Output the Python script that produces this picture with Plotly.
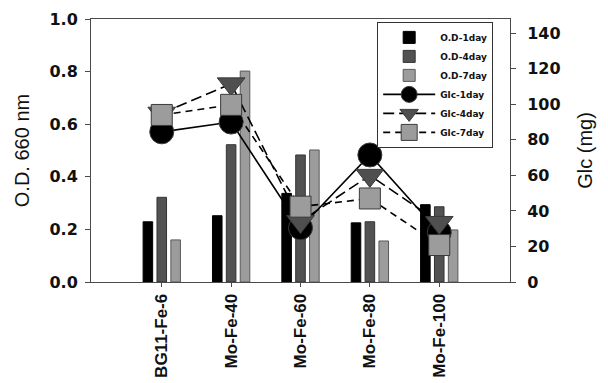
import plotly.graph_objects as go

categories = ["BG11-Fe-6", "Mo-Fe-40", "Mo-Fe-60", "Mo-Fe-80", "Mo-Fe-100"]
od_1day = [0.229, 0.252, 0.337, 0.225, 0.294]
od_4day = [0.322, 0.522, 0.483, 0.229, 0.286]
od_7day = [0.160, 0.802, 0.502, 0.156, 0.198]
glc_1day = [84.5, 90.0, 30.5, 71.5, 28.0]
glc_4day = [95.0, 111.5, 34.0, 60.0, 33.5]
glc_7day = [94.0, 99.7, 42.4, 47.0, 20.8]

ARIAL = "Liberation Sans, Arial, sans-serif"
DEJAVU = "DejaVu Sans, sans-serif"
AX = "#4a4a4a"
TXT = "#111111"

fig = go.Figure()
bar_specs = [("O.D-1day", od_1day, "#000000", "#000000"),
             ("O.D-4day", od_4day, "#525252", "#333333"),
             ("O.D-7day", od_7day, "#9c9c9c", "#5a5a5a")]
for name, vals, col, lc in bar_specs:
    fig.add_trace(go.Bar(x=categories, y=vals, name=name, marker_color=col,
                         marker_line=dict(color=lc, width=1), yaxis="y"))

line_specs = [("Glc-1day", glc_1day, "circle", "#000000", "solid", 24),
              ("Glc-4day", glc_4day, "triangle-down", "#4f4f4f", "11px,5px", 24),
              ("Glc-7day", glc_7day, "square", "#9c9c9c", "7px,5px", 21)]
for name, vals, sym, col, dash, sz in line_specs:
    fig.add_trace(go.Scatter(x=categories, y=vals, name=name, yaxis="y2",
                             mode="lines+markers",
                             line=dict(color="#000000", width=1.6, dash=dash),
                             marker=dict(symbol=sym, size=sz, color=col,
                                         line=dict(color="#3a3a3a", width=1))))

# page body has an 8px default margin, so the figure is 8px smaller
fig.update_layout(
    width=600, height=375,
    margin=dict(l=83, r=98, t=11, b=101, autoexpand=False),
    paper_bgcolor="white", plot_bgcolor="white",
    barmode="group", bargap=0.4, bargroupgap=0.31,
    showlegend=True,
    legend=dict(x=0.683, y=0.989, xanchor="left", yanchor="top",
                bgcolor="white", bordercolor="#333333", borderwidth=1,
                font=dict(family=DEJAVU, size=9, color=TXT, weight="bold"),
                tracegroupgap=0, itemwidth=52),
    font=dict(family=ARIAL, color=TXT),
    xaxis=dict(type="category", range=[-1.02, 5.02], showline=True, linecolor=AX,
               linewidth=1, mirror=True, ticks="outside", ticklen=4, tickcolor=AX,
               tickangle=-90, showgrid=False, zeroline=False, automargin=False,
               tickfont=dict(family=ARIAL, size=17, color=TXT, weight="bold")),
    yaxis=dict(range=[0, 1.0], dtick=0.2, tickformat=".1f", showline=True,
               linecolor=AX, linewidth=1, ticks="outside", ticklen=5, tickcolor=AX,
               ticklabelstandoff=4, showgrid=False, zeroline=False, automargin=False,
               tickfont=dict(family=DEJAVU, size=16, color=TXT, weight="bold"),
               title=dict(text="O.D. 660 nm", standoff=14,
                          font=dict(family=ARIAL, size=20, color=TXT))),
    yaxis2=dict(range=[0, 148], dtick=20, overlaying="y", side="right",
                showline=True, linecolor=AX, linewidth=1, ticks="outside",
                ticklen=5, tickcolor=AX, ticklabelstandoff=8,
                showgrid=False, zeroline=False, automargin=False,
                tickfont=dict(family=DEJAVU, size=16, color=TXT, weight="bold"),
                title=dict(text="Glc (mg)", standoff=18,
                           font=dict(family=ARIAL, size=20, color=TXT))),
)

fig.write_html("out.html")
